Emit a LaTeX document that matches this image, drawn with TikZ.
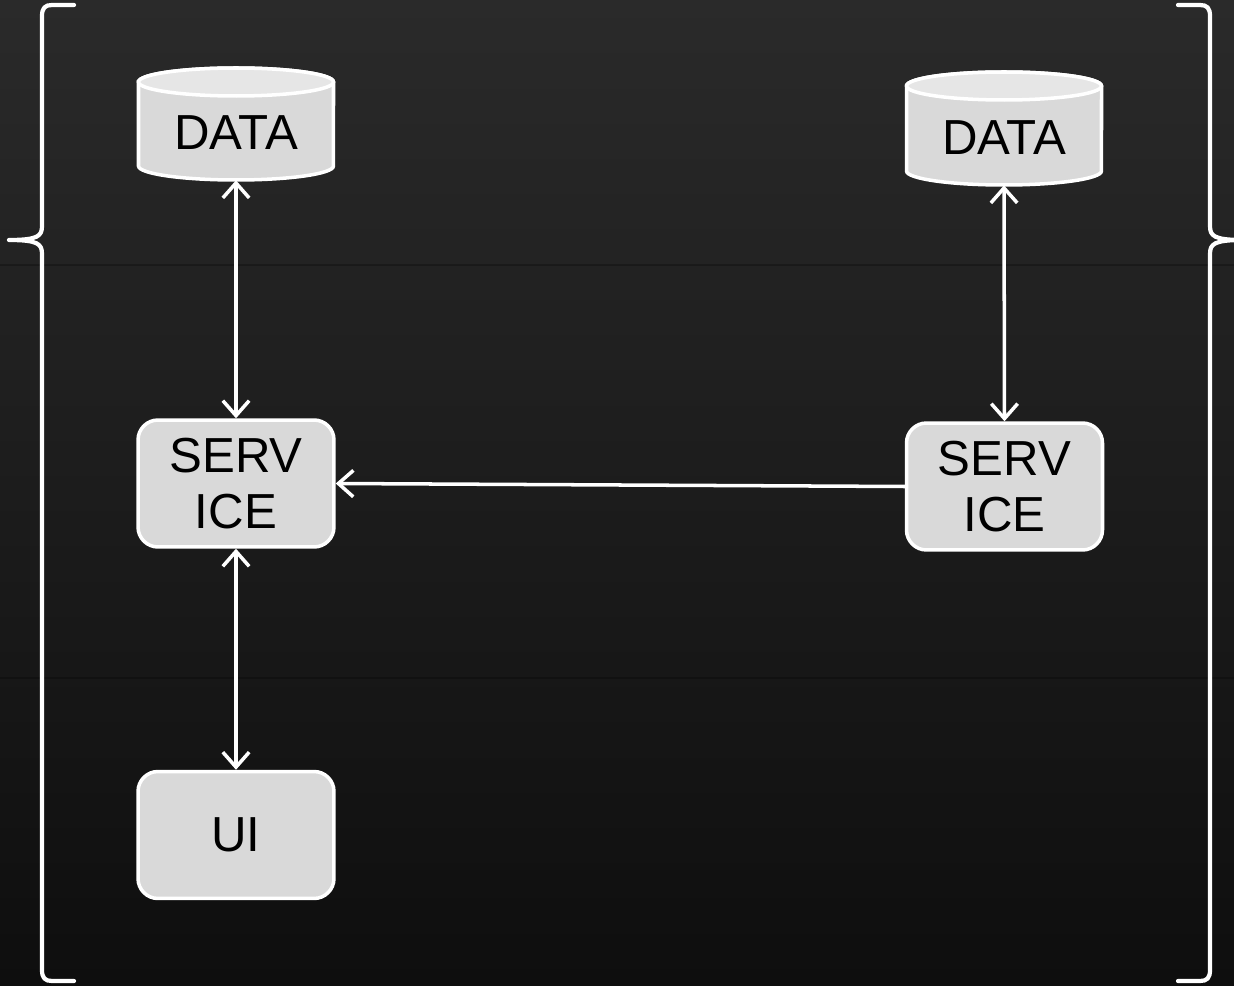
\documentclass[tikz,border=0pt]{standalone}
\usepackage{fontspec}
\setmainfont{Liberation Sans}
\usetikzlibrary{arrows.meta}
\definecolor{bgtop}{HTML}{2A2A2A}
\definecolor{bgmid}{HTML}{222222}
\definecolor{bgbot}{HTML}{0E0E0E}
\definecolor{boxfill}{HTML}{D9D9D9}
\definecolor{capfill}{HTML}{E6E6E6}

% data store drawn as a cylinder: #1 centre x, #2 top ellipse centre y, #3 bottom ellipse centre y
\newcommand\datacyl[3]{%
  \filldraw[draw=white, line width=2pt, fill=boxfill]
    (#1-97.5,#2) -- (#1-97.5,#3)
    arc[start angle=180, end angle=360, x radius=1.95cm, y radius=0.28cm]
    -- (#1+97.5,#2)
    arc[start angle=0, end angle=180, x radius=1.95cm, y radius=0.28cm] -- cycle;
  \filldraw[draw=white, line width=2pt, fill=capfill]
    (#1,#2) ellipse [x radius=1.95cm, y radius=0.28cm];
}

\begin{document}
\begin{tikzpicture}[x=0.02cm, y=-0.02cm,
  box/.style={draw=white, line width=2pt, fill=boxfill, rounded corners=0.4cm,
    minimum width=3.92cm, minimum height=2.54cm, inner sep=0pt, align=center,
    font=\fontsize{28}{31.5}\selectfont},
  store/.style={minimum width=3.9cm, minimum height=1.88cm, inner sep=0pt,
    font=\fontsize{28}{31.5}\selectfont},
  tip/.tip={Straight Barb[length=8.5pt, width=15pt]},
  link/.style={draw=white, line width=2pt, -tip},
  both/.style={draw=white, line width=2pt, tip-tip},
  brace/.style={draw=white, line width=2.4pt, line cap=round, line join=round}]

% frame and backdrop
\useasboundingbox (0,0) rectangle (1234,986);
\clip (0,0) rectangle (1234,986);
\shade[top color=bgtop, middle color=bgmid, bottom color=bgbot] (0,0) rectangle (1234,986);
\draw[line width=1pt, black, opacity=0.25] (0,265) -- (1234,265);
\draw[line width=1pt, black, opacity=0.25] (0,678) -- (1234,678);

% data stores
\datacyl{236}{82}{166}
\datacyl{1004}{86}{171}
\node[store] (dataL) at (236,133) {DATA};
\node[store] (dataR) at (1004,138) {DATA};

% services and UI
\node[box] (servL) at (236,483.5) {SERV\\ICE};
\node[box] (servR) at (1004.5,486.5) {SERV\\ICE};
\node[box] (ui) at (236,835) {UI};

% connectors
\draw[both] (dataL.south) -- (servL.north);
\draw[both] (dataR.south) -- (servR.north);
\draw[both] (servL.south) -- (ui.north);
\draw[link] (servR.west) -- (servL.east);

% grouping braces
\draw[brace] (74,5) -- (52,5) .. controls (45,5) and (42,8) .. (42,16)
  -- (42,226) .. controls (42,236) and (38,240) .. (9,240)
  .. controls (38,240) and (42,244) .. (42,254)
  -- (42,970) .. controls (42,978) and (45,981) .. (52,981) -- (74,981);
\draw[brace] (1178,5) -- (1200,5) .. controls (1207,5) and (1210,8) .. (1210,16)
  -- (1210,226) .. controls (1210,236) and (1214,240) .. (1243,240)
  .. controls (1214,240) and (1210,244) .. (1210,254)
  -- (1210,970) .. controls (1210,978) and (1207,981) .. (1200,981) -- (1178,981);
\end{tikzpicture}
\end{document}
